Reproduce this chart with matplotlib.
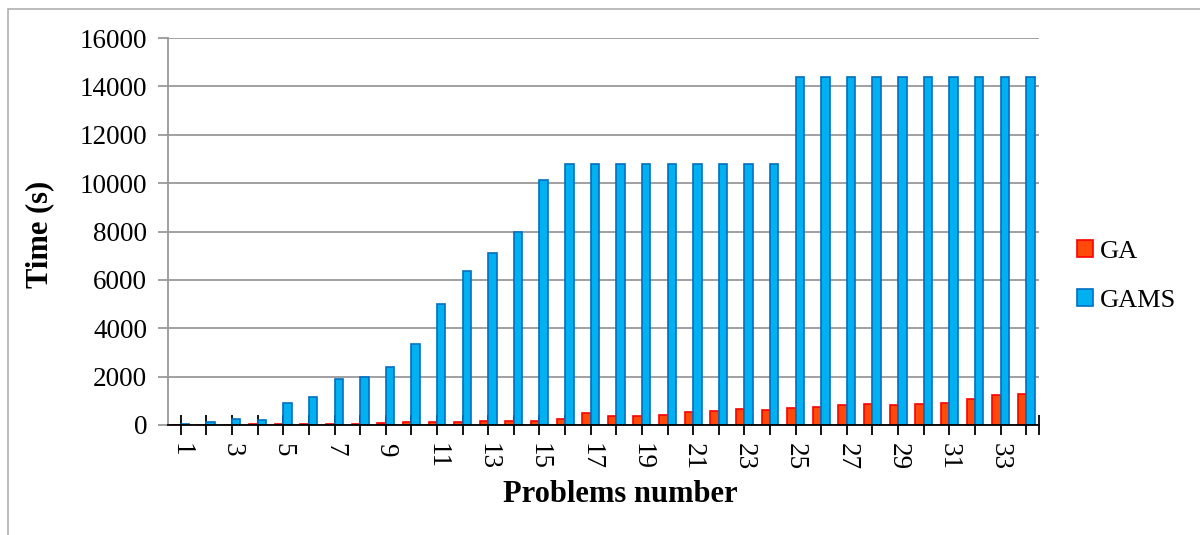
import matplotlib.pyplot as plt
import numpy as np
from matplotlib.patches import Rectangle

problems = list(range(1, 35))
ga_times = [15, 20, 20, 25, 30, 40, 60, 40, 80, 110, 110, 140, 180, 180, 180,
            235, 495, 385, 370, 430, 525, 565, 650, 620, 700, 730, 815, 880,
            830, 855, 895, 1060, 1225, 1295]
gams_times = [30, 105, 230, 220, 930, 1170, 1915, 1975, 2410, 3350, 5010, 6360,
              7105, 7960, 10115, 10800, 10800, 10800, 10800, 10800, 10800, 10800,
              10800, 10800, 14400, 14400, 14400, 14400, 14400, 14400, 14400,
              14400, 14400, 14400]
series_names = ['GA', 'GAMS']
y_ticks = [0, 2000, 4000, 6000, 8000, 10000, 12000, 14000, 16000]

plt.rcParams['font.family'] = ['Liberation Serif', 'DejaVu Serif']

W, H = 1200, 535
fig = plt.figure(figsize=(W / 100, H / 100), dpi=100)
ax = fig.add_axes([168 / W, 1 - 425 / H, (1039 - 168) / W, (425 - 38) / H])

# outer chart frame
fig.patches.append(Rectangle((8 / W, -0.1), 1.2, 1 - 9 / H + 0.1, transform=fig.transFigure,
                             fill=False, edgecolor='#b0b0b0', linewidth=1.2))

x = np.array(problems)
barWidth = 0.33
ax.bar(x - barWidth / 2, ga_times, width=barWidth, color='#ff4a0a', edgecolor='#ff0000',
       linewidth=1.2, label=series_names[0], zorder=3)
ax.bar(x + barWidth / 2, gams_times, width=barWidth, color='#00b0f0', edgecolor='#0070c0',
       linewidth=1.2, label=series_names[1], zorder=3)

ax.set_xlim(0.5, 34.5)
ax.set_ylim(0, 16000)
ax.set_yticks(y_ticks)
ax.set_yticklabels([str(v) for v in y_ticks], fontsize=19.5)
ax.yaxis.grid(True, color='#999999', linewidth=1.3, zorder=0)
ax.tick_params(axis='y', direction='out', length=7, color='#999999', width=1.3, pad=8)

ax.set_xticks(problems)
ax.set_xticklabels([str(p) if p % 2 == 1 else '' for p in problems], rotation=270,
                   fontsize=19.5, va='top', ha='center')
ax.set_xticks([34.5], minor=True)
ax.tick_params(axis='x', which='both', direction='inout', length=14, width=1.3, color='black', pad=6)

for s in ['top', 'right']:
    ax.spines[s].set_visible(False)
ax.spines['left'].set_color('#999999')
ax.spines['left'].set_linewidth(1.3)
ax.spines['bottom'].set_color('black')
ax.spines['bottom'].set_linewidth(1.3)
ax.spines['bottom'].set_zorder(4)

fig.text(40 / W, 1 - 234 / H, 'Time (s)', rotation=90, fontsize=22, fontweight='bold',
         ha='center', va='center')
fig.text(620 / W, 1 - 494 / H, 'Problems number', fontsize=22, fontweight='bold',
         ha='center', va='center')

fig.legend(loc='center left', bbox_to_anchor=(1072 / W, 1 - 276 / H), frameon=False,
           fontsize=19, handlelength=0.6, handleheight=0.6, handletextpad=0.25,
           labelspacing=1.0, borderaxespad=0, borderpad=0.2)

fig.savefig('out.png', dpi=100)
